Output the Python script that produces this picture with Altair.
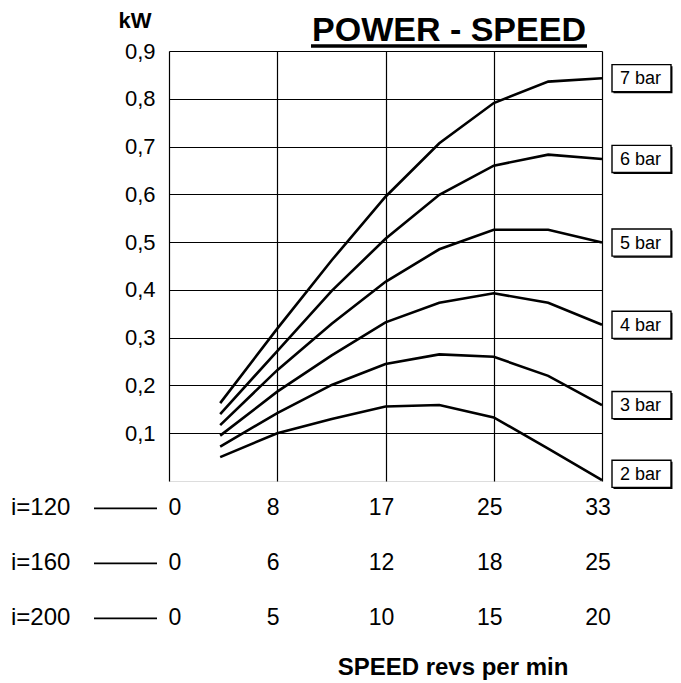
import altair as alt
import pandas as pd

# ---- data ----
speed_i120 = [3.9, 8.25, 12.4, 16.5, 20.6, 24.75, 28.9, 33.0]
pressures = ["2 bar", "3 bar", "4 bar", "5 bar", "6 bar", "7 bar"]
kw_2bar = [0.050, 0.100, 0.130, 0.156, 0.159, 0.133, 0.068, 0.002]
kw_3bar = [0.072, 0.142, 0.201, 0.245, 0.265, 0.260, 0.220, 0.159]
kw_4bar = [0.095, 0.187, 0.263, 0.332, 0.373, 0.393, 0.373, 0.327]
kw_5bar = [0.117, 0.232, 0.329, 0.417, 0.485, 0.526, 0.526, 0.499]
kw_6bar = [0.140, 0.272, 0.398, 0.507, 0.599, 0.660, 0.683, 0.674]
kw_7bar = [0.163, 0.319, 0.462, 0.595, 0.707, 0.791, 0.836, 0.843]

grid_ticks = [0, 8.25, 16.5, 24.75, 33]
y_ticks = [0.1, 0.2, 0.3, 0.4, 0.5, 0.6, 0.7, 0.8, 0.9]
ratio_names = ["i=120", "i=160", "i=200"]
labels_i120 = ["0", "8", "17", "25", "33"]
labels_i160 = ["0", "6", "12", "18", "25"]
labels_i200 = ["0", "5", "10", "15", "20"]

series = [kw_2bar, kw_3bar, kw_4bar, kw_5bar, kw_6bar, kw_7bar]
curves = pd.DataFrame(
    [{"pressure": p, "speed": s, "kw": v}
     for p, vals in zip(pressures, series) for s, v in zip(speed_i120, vals)]
)
ends = pd.DataFrame({"pressure": pressures, "kw_end": [vals[-1] for vals in series]})

FONT = "Liberation Sans"
W, H = 433, 430

lines = alt.Chart(curves).mark_line(color="black", strokeWidth=2.6).encode(
    x=alt.X("speed:Q",
            scale=alt.Scale(domain=[0, 33], nice=False, zero=False),
            axis=alt.Axis(values=grid_ticks, grid=True, labels=False, ticks=False,
                          domain=False, title=None, gridColor="black",
                          gridOpacity=1, gridWidth=1.2)),
    y=alt.Y("kw:Q",
            scale=alt.Scale(domain=[0, 0.9], nice=False),
            axis=alt.Axis(values=y_ticks,
                          labelExpr="replace(format(datum.value, '.1f'), '.', ',')",
                          ticks=False, domain=False, labelPadding=14,
                          labelFontSize=22, labelColor="black", labelFont=FONT,
                          gridColor="black", gridOpacity=1, gridWidth=1.2,
                          title="kW", titleAngle=0, titleAlign="left",
                          titleBaseline="middle", titleX=-51, titleY=-31,
                          titleFontSize=22, titleFontWeight="bold",
                          titleFont=FONT, titleColor="black")),
    detail="pressure:N",
)

BOX_X = 472.5
box_base = alt.Chart(ends).transform_calculate(
    label_y="max(datum.kw_end, 0.015)"
)
shadow = box_base.mark_point(
    shape="M-0.95,-0.41L1.05,-0.41L1.05,0.51L-0.95,0.51Z", size=3481,
    filled=True, fill="black", opacity=1, strokeWidth=0,
).encode(x=alt.value(BOX_X), y="label_y:Q")
boxes = box_base.mark_point(
    shape="M-1,-0.46L1,-0.46L1,0.46L-1,0.46Z", size=3481,
    filled=True, fill="white", stroke="black", strokeWidth=1.4, opacity=1,
).encode(x=alt.value(BOX_X), y="label_y:Q")
box_text = box_base.mark_text(
    fontSize=18, font=FONT, color="black", align="center", baseline="middle", dy=1
).encode(x=alt.value(BOX_X - 1), y="label_y:Q", text="pressure:N")

# bottom speed table
row_labels = [labels_i120, labels_i160, labels_i200]
row_y = [457.3, 512.3, 567.3]
table_layers = []
for name, labs, ry in zip(ratio_names, row_labels, row_y):
    df = pd.DataFrame({"pos": grid_ticks, "label": labs, "first": [i == 0 for i in range(len(labs))]})
    first = alt.Chart(df).transform_filter("datum.first").mark_text(
        fontSize=23, font=FONT, color="black", align="center", baseline="middle", dx=6
    ).encode(x="pos:Q", y=alt.value(ry), text="label:N")
    rest = alt.Chart(df).transform_filter("!datum.first").mark_text(
        fontSize=23, font=FONT, color="black", align="center", baseline="middle", dx=-4
    ).encode(x="pos:Q", y=alt.value(ry), text="label:N")
    hdr = alt.Chart(pd.DataFrame({"name": [name]})).mark_text(
        fontSize=24, font=FONT, color="black", align="left", baseline="middle"
    ).encode(x=alt.value(-158), y=alt.value(ry), text="name:N")
    dash = alt.Chart(pd.DataFrame({"name": [name]})).mark_rule(
        color="black", strokeWidth=1.8
    ).encode(x=alt.value(-75), x2=alt.value(-12), y=alt.value(ry))
    table_layers += [first, rest, hdr, dash]

speed_title = alt.Chart(pd.DataFrame({"t": ["SPEED revs per min"]})).mark_text(
    fontSize=24, font=FONT, fontWeight="bold", color="black",
    align="center", baseline="middle"
).encode(x=alt.value(284), y=alt.value(617), text="t:N")

main_title = alt.Chart(pd.DataFrame({"t": ["POWER - SPEED"]})).mark_text(
    fontSize=34, font=FONT, fontWeight="bold", color="black",
    align="center", baseline="alphabetic"
).encode(x=alt.value(280), y=alt.value(-10), text="t:N")
underline = alt.Chart(pd.DataFrame({"t": ["u"]})).mark_rule(
    color="black", strokeWidth=3.5
).encode(x=alt.value(142), x2=alt.value(418), y=alt.value(-5))

chart = alt.layer(
    lines, shadow, boxes, box_text, *table_layers, speed_title, main_title, underline
).properties(
    width=W, height=H,
    padding={"left": 161, "top": 43, "right": 71, "bottom": 202},
    autosize=alt.AutoSizeParams(type="none"),
).configure_view(
    stroke="black", strokeWidth=1.5
).configure(
    font=FONT, background="white"
)

chart.save("out.html", embed_options={"renderer": "svg", "actions": False})
